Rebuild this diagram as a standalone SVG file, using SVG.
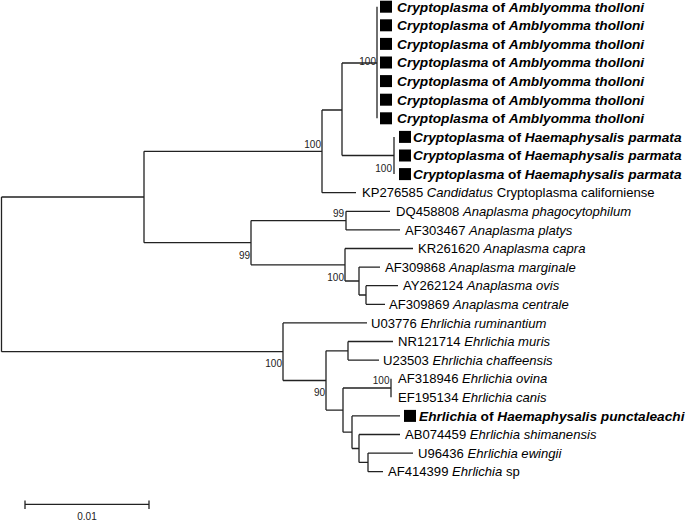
<svg xmlns="http://www.w3.org/2000/svg" width="685" height="522" viewBox="0 0 685 522">
<style>
.br{fill:none;stroke:#222;stroke-width:1.3}
.lb{font-family:"Liberation Sans",Arial,sans-serif;font-size:13.1px;fill:#000}
.bs{font-family:"Liberation Sans",Arial,sans-serif;font-size:10px;fill:#222;text-anchor:end}
.b{font-weight:bold;font-size:13.7px}
.i{font-style:italic}
.sq{fill:#000}
</style>
<rect width="685" height="522" fill="#fff"/>
<g id="connectors" class="br">
<path d="M1.5,197V351.7M1.5,197H144M1.5,351.7H283"/>
<path d="M144,151.3V242.7M144,151.3H322M144,242.7H251"/>
<path d="M322,110V192.7M322,110H342M322,192.7H356"/>
<path d="M342,63V155.5M342,63H377M342,155.5H394"/>
<path d="M377,6.7V118.3"/>
<path d="M394,136.9V174.1"/>
<path d="M251,220.6V264.8M251,220.6H346M251,264.8H345"/>
<path d="M346,211.3V229.9M346,211.3H390M346,229.9H400"/>
<path d="M345,248.5V281M345,248.5H413M345,281H359"/>
<path d="M359,267.1V295M359,267.1H380M359,295H366"/>
<path d="M366,285.7V304.3M366,285.7H398M366,304.3H385"/>
<path d="M283,322.9V380.5M283,322.9H367M283,380.5H326"/>
<path d="M326,350.8V410.1M326,350.8H348M326,410.1H343"/>
<path d="M348,341.5V360.1M348,341.5H393M348,360.1H379"/>
<path d="M343,388V432.2M343,388H391M343,432.2H352"/>
<path d="M391,378.7V397.3"/>
<path d="M352,415.9V448.5M352,415.9H400M352,448.5H359"/>
<path d="M359,434.5V462.4M359,434.5H400M359,462.4H368"/>
<path d="M368,453.1V471.7M368,453.1H413M368,471.7H383"/>
</g>
<g id="bootstrap">
<text class="bs" x="376" y="65">100</text>
<text class="bs" x="392" y="172">100</text>
<text class="bs" x="321" y="148">100</text>
<text class="bs" x="250" y="259">99</text>
<text class="bs" x="344" y="217">99</text>
<text class="bs" x="344" y="281">100</text>
<text class="bs" x="282" y="367">100</text>
<text class="bs" x="325" y="396">90</text>
<text class="bs" x="389.5" y="384">100</text>
</g>
<g id="leaf-amb1"><rect class="sq" x="380" y="0.7" width="12" height="12"/><text class="lb b" x="397" y="11.5"><tspan class="i">Cryptoplasma</tspan> of <tspan class="i">Amblyomma tholloni</tspan></text></g>
<g id="leaf-amb2"><rect class="sq" x="380" y="19.3" width="12" height="12"/><text class="lb b" x="397" y="30.1"><tspan class="i">Cryptoplasma</tspan> of <tspan class="i">Amblyomma tholloni</tspan></text></g>
<g id="leaf-amb3"><rect class="sq" x="380" y="37.9" width="12" height="12"/><text class="lb b" x="397" y="48.7"><tspan class="i">Cryptoplasma</tspan> of <tspan class="i">Amblyomma tholloni</tspan></text></g>
<g id="leaf-amb4"><rect class="sq" x="380" y="56.5" width="12" height="12"/><text class="lb b" x="397" y="67.3"><tspan class="i">Cryptoplasma</tspan> of <tspan class="i">Amblyomma tholloni</tspan></text></g>
<g id="leaf-amb5"><rect class="sq" x="380" y="75.1" width="12" height="12"/><text class="lb b" x="397" y="85.9"><tspan class="i">Cryptoplasma</tspan> of <tspan class="i">Amblyomma tholloni</tspan></text></g>
<g id="leaf-amb6"><rect class="sq" x="380" y="93.7" width="12" height="12"/><text class="lb b" x="397" y="104.5"><tspan class="i">Cryptoplasma</tspan> of <tspan class="i">Amblyomma tholloni</tspan></text></g>
<g id="leaf-amb7"><rect class="sq" x="380" y="112.3" width="12" height="12"/><text class="lb b" x="397" y="123.1"><tspan class="i">Cryptoplasma</tspan> of <tspan class="i">Amblyomma tholloni</tspan></text></g>
<g id="leaf-hp1"><rect class="sq" x="399" y="130.9" width="12" height="12"/><text class="lb b" x="413" y="141.7"><tspan class="i">Cryptoplasma</tspan> of <tspan class="i">Haemaphysalis parmata</tspan></text></g>
<g id="leaf-hp2"><rect class="sq" x="399" y="149.5" width="12" height="12"/><text class="lb b" x="413" y="160.3"><tspan class="i">Cryptoplasma</tspan> of <tspan class="i">Haemaphysalis parmata</tspan></text></g>
<g id="leaf-hp3"><rect class="sq" x="399" y="168.1" width="12" height="12"/><text class="lb b" x="413" y="178.9"><tspan class="i">Cryptoplasma</tspan> of <tspan class="i">Haemaphysalis parmata</tspan></text></g>
<g id="leaf-KP276585"><text class="lb" x="362" y="197.3">KP276585 <tspan class="i">Candidatus</tspan> Cryptoplasma californiense</text></g>
<g id="leaf-DQ458808"><text class="lb" x="396" y="215.9">DQ458808 <tspan class="i">Anaplasma phagocytophilum</tspan></text></g>
<g id="leaf-AF303467"><text class="lb" x="405" y="234.5">AF303467 <tspan class="i">Anaplasma platys</tspan></text></g>
<g id="leaf-KR261620"><text class="lb" x="418" y="253.1">KR261620 <tspan class="i">Anaplasma capra</tspan></text></g>
<g id="leaf-AF309868"><text class="lb" x="385" y="271.7">AF309868 <tspan class="i">Anaplasma marginale</tspan></text></g>
<g id="leaf-AY262124"><text class="lb" x="403" y="290.3">AY262124 <tspan class="i">Anaplasma ovis</tspan></text></g>
<g id="leaf-AF309869"><text class="lb" x="389" y="308.9">AF309869 <tspan class="i">Anaplasma centrale</tspan></text></g>
<g id="leaf-U03776"><text class="lb" x="371" y="327.5">U03776 <tspan class="i">Ehrlichia ruminantium</tspan></text></g>
<g id="leaf-NR121714"><text class="lb" x="398" y="346.1">NR121714 <tspan class="i">Ehrlichia muris</tspan></text></g>
<g id="leaf-U23503"><text class="lb" x="383" y="364.7">U23503 <tspan class="i">Ehrlichia chaffeensis</tspan></text></g>
<g id="leaf-AF318946"><text class="lb" x="398" y="383.3">AF318946 <tspan class="i">Ehrlichia ovina</tspan></text></g>
<g id="leaf-EF195134"><text class="lb" x="398" y="401.9">EF195134 <tspan class="i">Ehrlichia canis</tspan></text></g>
<g id="leaf-punct"><rect class="sq" x="404" y="409.9" width="12" height="12"/><text class="lb b" x="419" y="420.7"><tspan class="i">Ehrlichia</tspan> of <tspan class="i">Haemaphysalis punctaleachi</tspan></text></g>
<g id="leaf-AB074459"><text class="lb" x="405" y="439.1">AB074459 <tspan class="i">Ehrlichia shimanensis</tspan></text></g>
<g id="leaf-U96436"><text class="lb" x="418" y="457.7">U96436 <tspan class="i">Ehrlichia ewingii</tspan></text></g>
<g id="leaf-AF414399"><text class="lb" x="388" y="476.3">AF414399 <tspan class="i">Ehrlichia</tspan> sp</text></g>
<g id="scalebar">
<path class="br" d="M25,504.3H149M25,500.5V509M149,500.5V509"/>
<text class="bs" x="87" y="520" style="text-anchor:middle">0.01</text>
</g>
</svg>
